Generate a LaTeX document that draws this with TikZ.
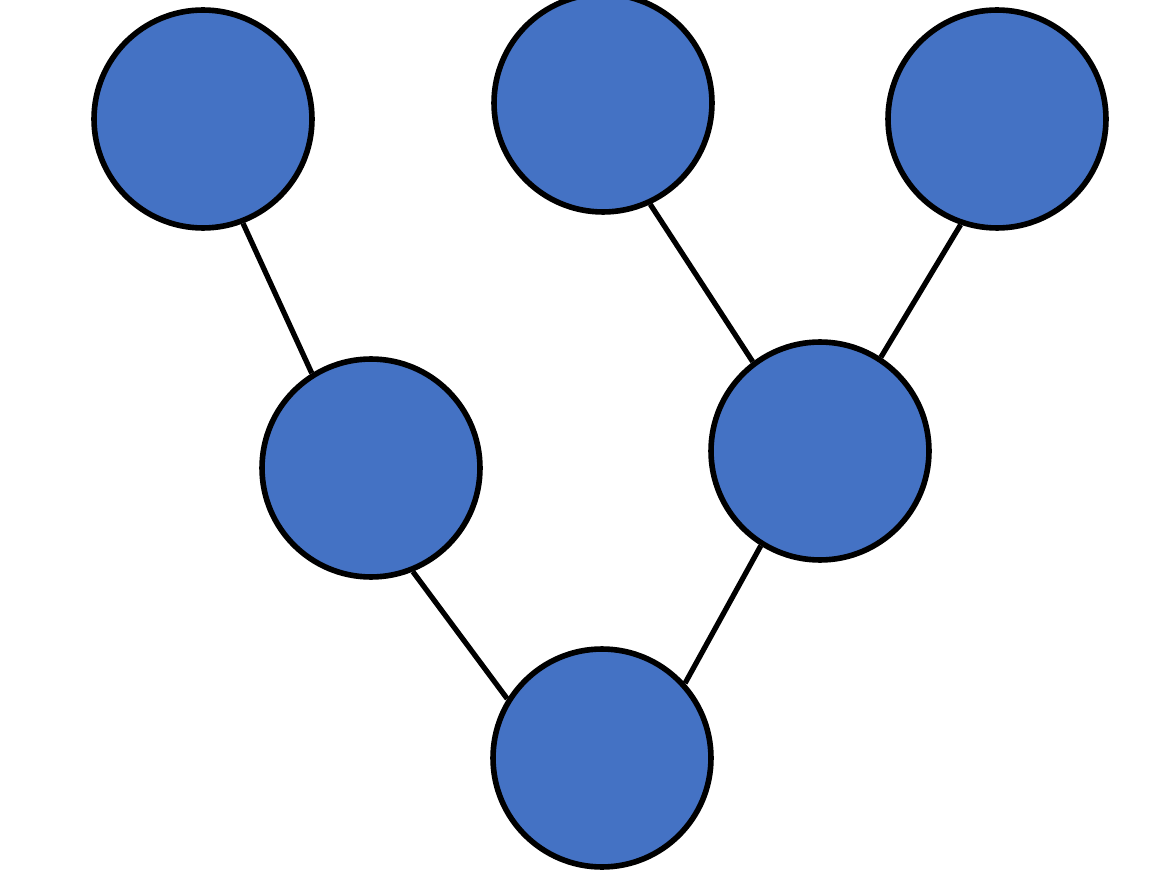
\documentclass[tikz,border=0pt]{standalone}
\definecolor{nodeblue}{HTML}{4472C4}
\begin{document}
\begin{tikzpicture}[x=0.02cm,y=-0.02cm,
  vert/.style={circle,draw=black,fill=nodeblue,line width=3.2pt,minimum size=4.36cm,inner sep=0pt},
  edge/.style={draw=black,line width=3pt}]
\useasboundingbox (0,0) rectangle (1156,878);
\clip (0,0) rectangle (1156,878);
\node[vert] (a) at (203,119) {};
\node[vert] (b) at (603,103) {};
\node[vert] (c) at (997,119) {};
\node[vert] (d) at (371,468) {};
\node[vert] (e) at (820,451) {};
\node[vert] (f) at (602,758) {};
\draw[edge] (a.-69) -- (d.122);
\draw[edge] (b.-65) -- (e.127);
\draw[edge] (c.-109) -- (e.57);
\draw[edge] (d.-68) -- (f.148);
\draw[edge] (f.42) -- (e.-122);
\end{tikzpicture}
\end{document}
